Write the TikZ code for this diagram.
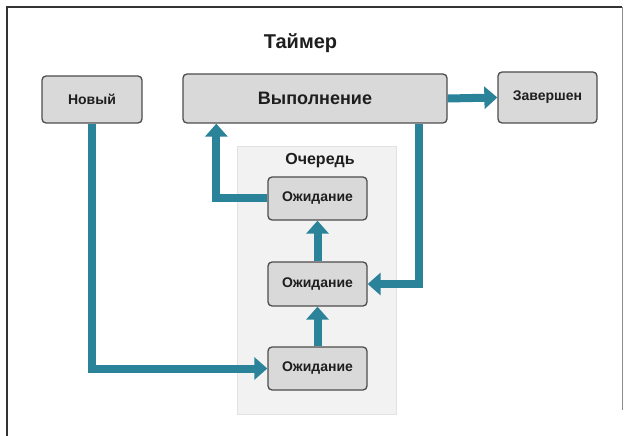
\documentclass[tikz,border=0pt]{standalone}
\usepackage{fontspec}
\setmainfont{Liberation Sans}
\usetikzlibrary{arrows.meta,calc}
\definecolor{arrowc}{HTML}{2A8399}
\definecolor{boxfill}{HTML}{D9D9D9}
\definecolor{boxline}{HTML}{4D4D4D}
\definecolor{queuefill}{HTML}{F2F2F2}
\definecolor{queueline}{HTML}{E2E2E2}
\definecolor{txt}{HTML}{1E1E1E}
\tikzset{
  statebox/.style={draw=boxline, line width=1.3pt, fill=boxfill, rounded corners=4pt,
    inner sep=0pt, text=txt, font=\bfseries\fontsize{14}{16}\selectfont},
  flow/.style={draw=arrowc, line width=8pt, -{Triangle[length=13pt,width=22pt]}},
  flowplain/.style={draw=arrowc, line width=8pt},
}
\begin{document}
\begin{tikzpicture}[x=1pt,y=-1pt]
\useasboundingbox (0,0) rectangle (625,436);
\fill[white] (0,0) rectangle (625,436);
% frame
\draw[line width=1.3pt, draw=black!80] (7,436) -- (7,7) -- (622,7);
\draw[line width=0.8pt, draw=black!45] (622,7) -- (622,410);
% queue background
\node[draw=queueline, fill=queuefill, line width=0.6pt, minimum width=159pt, minimum height=268pt, inner sep=0pt] (queue) at (316.5,280) {};
\node[text=txt, font=\bfseries\fontsize{16}{18}\selectfont] (qlabel) at (320,161) {Очередь};
% title
\node[text=txt, font=\bfseries\fontsize{20}{22}\selectfont] (title) at (300.5,43) {Таймер};
% boxes
\node[statebox, minimum width=100pt, minimum height=47pt] (novyi) at (92,99.5) {Новый};
\node[statebox, minimum width=264pt, minimum height=49pt, font=\bfseries\fontsize{18}{20}\selectfont] (vyp) at (315,98.5) {Выполнение};
\node[statebox, minimum width=99pt, minimum height=51pt] (zav) at (547.5,97.5) {Завершен};
\node[statebox, minimum width=99pt, minimum height=43pt] (w1) at (317.5,198.5) {Ожидание};
\node[statebox, minimum width=99pt, minimum height=44pt] (w2) at (317.5,284) {Ожидание};
\node[statebox, minimum width=99pt, minimum height=43pt] (w3) at (317.5,368.5) {Ожидание};
% helper coordinates
\coordinate (vypout) at ($(vyp.south east)+(-29,0)$);
\coordinate (vypin) at ($(vyp.south west)+(34,0)$);
% connectors
\draw[flow] (vyp.east) -- (zav.west);
\draw[flow] (novyi.south) |- (w3.west);
\draw[flow] (vypout) |- (w2.east);
\draw[flow] (w1.west) -| (vypin);
\draw[flow] (w3.north) -- (w2.south);
\draw[flow] (w2.north) -- (w1.south);
\end{tikzpicture}
\end{document}
